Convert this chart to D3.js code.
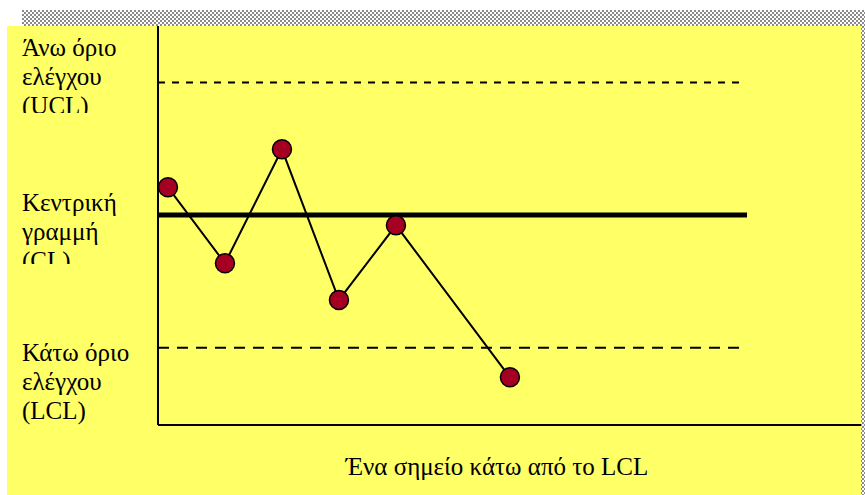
<!DOCTYPE html>
<html>
<head>
<meta charset="utf-8">
<script src="https://cdn.jsdelivr.net/npm/d3@7"></script>
<style>
  body { margin: 0; background: #fff; }
  text { font-family: "Liberation Serif", "Times New Roman", serif; fill: #000; }
</style>
</head>
<body>
<div id="chart"></div>
<script>
// sample positions and values (in sigma units, CL = 0)
const samples = [1, 2, 3, 4, 5, 7];
const values  = [0.63, -1.09, 1.49, -1.92, -0.23, -3.67];

// control limits
const limits = [
  { name: "UCL", value: 3,  end: 11.04, dash: "7,7",  width: 2 },
  { name: "CL",  value: 0,  end: 11.16, dash: null,   width: 5 },
  { name: "LCL", value: -3, end: 11.16, dash: "11,8", width: 2 }
];

const labels = [
  { lines: ["Άνω όριο", "ελέγχου", "(UCL)"],       y: 56,  clip: 113 },
  { lines: ["Κεντρική", "γραμμή", "(CL)"],          y: 211, clip: 264 },
  { lines: ["Κάτω όριο", "ελέγχου", "(LCL)"],       y: 361, clip: null }
];
const caption = "Ένα σημείο κάτω από το LCL";

const W = 865, H = 495;
const svg = d3.select("#chart").append("svg")
  .attr("width", W).attr("height", H);

// checker pattern for the shadow strips
const defs = svg.append("defs");
const pat = defs.append("pattern")
  .attr("id", "checker").attr("width", 4).attr("height", 4)
  .attr("patternUnits", "userSpaceOnUse");
pat.append("rect").attr("width", 4).attr("height", 4).attr("fill", "#fff");
pat.append("rect").attr("width", 2).attr("height", 2).attr("fill", "#8a8a8a");
pat.append("rect").attr("x", 2).attr("y", 2).attr("width", 2).attr("height", 2).attr("fill", "#8a8a8a");

svg.append("rect").attr("x", 22).attr("y", 10).attr("width", W - 22).attr("height", 16).attr("fill", "url(#checker)");
svg.append("rect").attr("x", 861).attr("y", 10).attr("width", 4).attr("height", H - 10).attr("fill", "url(#checker)");

// yellow panel
svg.append("rect").attr("x", 7).attr("y", 26).attr("width", 854).attr("height", H - 26).attr("fill", "#ffff66");

let margin = { top: 26, left: 158, bottom: 425, right: 861 };
let x = d3.scaleLinear().domain([0.825, 13.16]).range([margin.left, margin.right]);
let y = d3.scaleLinear().domain([-4.75, 4.28]).range([margin.bottom, margin.top]);

// limit lines
svg.append("g")
  .selectAll("line")
  .data(limits).enter()
  .append("line")
    .attr("x1", x(0.825))
    .attr("x2", (d) => x(d.end))
    .attr("y1", (d) => y(d.value))
    .attr("y2", (d) => y(d.value))
    .attr("stroke", "#000")
    .attr("stroke-width", (d) => d.width)
    .attr("stroke-dasharray", (d) => d.dash);

// axes
svg.append("line")
  .attr("x1", margin.left).attr("x2", margin.left)
  .attr("y1", margin.top).attr("y2", margin.bottom)
  .attr("stroke", "#000").attr("stroke-width", 2);
svg.append("line")
  .attr("x1", margin.left).attr("x2", margin.right)
  .attr("y1", margin.bottom).attr("y2", margin.bottom)
  .attr("stroke", "#000").attr("stroke-width", 2);

// data line and points
let pts = samples.map((s, i) => [s, values[i]]);
svg.append("path")
  .datum(pts)
  .attr("fill", "none")
  .attr("stroke", "#000")
  .attr("stroke-width", 2)
  .attr("d", d3.line().x((d) => x(d[0])).y((d) => y(d[1])));

svg.append("g")
  .selectAll("circle")
  .data(pts).enter()
  .append("circle")
    .attr("cx", (d) => x(d[0]))
    .attr("cy", (d) => y(d[1]))
    .attr("r", 9.5)
    .attr("fill", "#a50021")
    .attr("stroke", "#000")
    .attr("stroke-width", 1.5);

// left labels, clipped like text boxes
labels.forEach((lab, i) => {
  let g = svg.append("g");
  if (lab.clip) {
    defs.append("clipPath").attr("id", "clip" + i)
      .append("rect").attr("x", 0).attr("y", lab.y - 30).attr("width", 150).attr("height", lab.clip - lab.y + 30);
    g.attr("clip-path", "url(#clip" + i + ")");
  }
  g.selectAll("text")
    .data(lab.lines).enter()
    .append("text")
      .attr("x", 22)
      .attr("y", (d, j) => lab.y + j * 29)
      .attr("font-size", 25)
      .text((d) => d);
});

svg.append("text")
  .attr("x", 497).attr("y", 475)
  .attr("text-anchor", "middle")
  .attr("font-size", 25)
  .text(caption);
</script>
</body>
</html>
